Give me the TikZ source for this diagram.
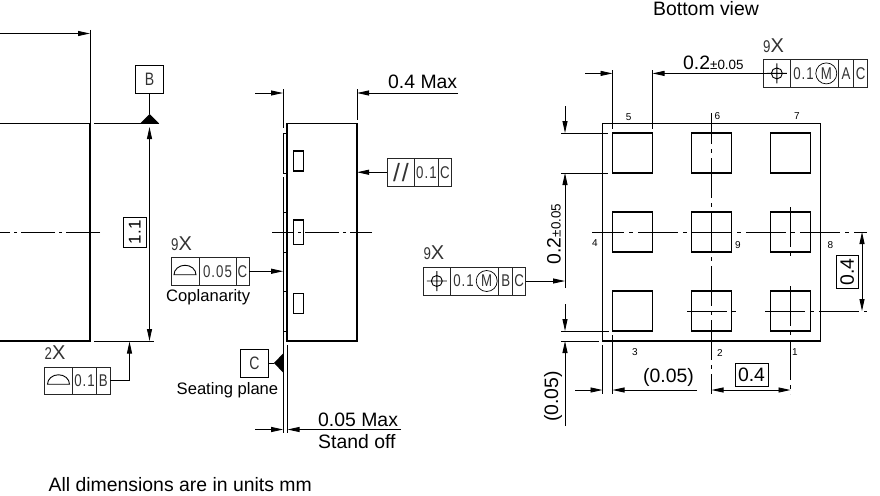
\documentclass[tikz,border=0pt]{standalone}
\usepackage{xcolor}
\usepackage{fontspec}
\setmainfont{Liberation Sans}
\newfontfamily\gdtfont[FakeStretch=0.78,LetterSpace=6]{Liberation Sans}
\usetikzlibrary{positioning,arrows.meta}

\begin{document}
\begin{tikzpicture}[
				x=1pt, y=-1pt,
				bodybox/.style={rectangle, draw, line width=1.2pt, inner sep=0pt, outer sep=0pt},
				padbox/.style={rectangle, draw, line width=1.2pt, inner sep=0pt, outer sep=0pt, minimum size=40pt},
				datumbox/.style={rectangle, draw, line width=0.7pt, inner sep=0pt, outer sep=0pt, minimum size=28pt, font=\gdtfont\fontsize{18}{18}\selectfont, text=black!80},
				fcell/.style={rectangle, draw=black!85, line width=0.8pt, inner sep=0pt, outer sep=0pt, minimum height=27.5pt, font=\gdtfont\fontsize{17}{17}\selectfont, text=black!80},
				markcirc/.style={circle, draw, line width=0.7pt, inner sep=0pt, outer sep=0pt, minimum size=21pt, font=\gdtfont\fontsize{17}{17}\selectfont, text=black!80},
				basicbox/.style={rectangle, draw, line width=0.8pt, inner sep=0pt, outer sep=0pt},
				mainlabel/.style={anchor=base west, inner sep=0pt, font=\fontsize{19.4}{20}\selectfont},
				smalllabel/.style={anchor=base west, inner sep=0pt, font=\fontsize{16.6}{18}\selectfont},
				pinlabel/.style={inner sep=0pt, font=\fontsize{10}{10}\selectfont},
				countlabel/.style={anchor=base west, inner sep=0pt, font=\gdtfont\fontsize{17}{17}\selectfont, text=black!80},
				thinline/.style={line width=0.9pt},
				dimline/.style={line width=0.9pt, -{Triangle[length=12pt,width=5pt]}},
				dimboth/.style={line width=0.9pt, {Triangle[length=12pt,width=5pt]}-{Triangle[length=12pt,width=5pt]}},
				centerline/.style={line width=0.8pt, dash pattern=on 40pt off 5pt on 4pt off 5pt},
				]
				\useasboundingbox (0,0) rectangle (880,495);
				\clip (0,0) rectangle (880,495);

				%Left view nodes
				\node[bodybox, minimum width=120pt, minimum height=217.5pt](front) at (30,232.25){};
				\node[datumbox](datumB) at (149.5,79){B};
				\node[basicbox, rotate=90, minimum width=29.5pt, minimum height=22.5pt, font=\fontsize{17}{17}\selectfont](heightval) at (134.75,232.25){1.1};
				\node[countlabel](flatcount) at (44.5,359){2{\normalfont\fontsize{20}{20}\selectfont X}};
				\node[fcell, minimum width=28pt, anchor=west](flatsym) at (44.5,380.75){};
				\node[fcell, minimum width=24pt, right=0pt of flatsym](flatval){0.1};
				\node[fcell, minimum width=13.5pt, right=0pt of flatval](flatdat){B};

				%Middle view nodes
				\node[bodybox, minimum width=70pt, minimum height=217.5pt](side) at (322,232.25){};
				\node[bodybox, line width=0.9pt, minimum width=4pt, minimum height=39.5pt](sideA) at (285.2,153.25){};
				\node[bodybox, line width=0.9pt, minimum width=4pt, minimum height=39.5pt](sideB) at (285.2,232.5){};
				\node[bodybox, line width=0.9pt, minimum width=4pt, minimum height=39.5pt](sideC) at (285.2,311.25){};
				\node[bodybox, minimum width=10pt, minimum height=20pt](chipA) at (298.5,161){};
				\node[bodybox, minimum width=10pt, minimum height=24.5pt](chipB) at (298.5,232.25){};
				\node[bodybox, minimum width=10pt, minimum height=20pt](chipC) at (298.5,303.25){};
				\node[mainlabel](maxlabel) at (388,88.5){0.4 Max};
				\node[fcell, minimum width=27.5pt, anchor=west, font=\fontsize{25}{25}\selectfont](parasym) at (387.2,172.25){/\kern2pt/};
				\node[fcell, minimum width=23.5pt, right=0pt of parasym](paraval){0.1};
				\node[fcell, minimum width=13.5pt, right=0pt of paraval](paradat){C};
				\node[countlabel](coplcount) at (171,250){9{\normalfont\fontsize{20}{20}\selectfont X}};
				\node[fcell, minimum width=28pt, anchor=west](coplsym) at (171,271.25){};
				\node[fcell, minimum width=37pt, right=0pt of coplsym](coplval){0.05};
				\node[fcell, minimum width=13pt, right=0pt of coplval](copldat){C};
				\node[smalllabel](copllabel) at (166,301){Coplanarity};
				\node[datumbox](datumC) at (254.5,363){C};
				\node[smalllabel](seatlabel) at (176.5,394){Seating plane};
				\node[mainlabel](standmax) at (318,426){0.05 Max};
				\node[mainlabel](standoff) at (318,448.5){Stand off};

				%Bottom view nodes
				\node[mainlabel](viewlabel) at (653,15.3){Bottom view};
				\node[bodybox, minimum width=218pt, minimum height=217.5pt](pkg) at (711.5,232.25){};
				\node[padbox](pad5) at (632.5,153){};
				\node[padbox, right=39pt of pad5](pad6){};
				\node[padbox, right=39pt of pad6](pad7){};
				\node[padbox, below=39pt of pad5](pad4){};
				\node[padbox, below=39pt of pad6](pad9){};
				\node[padbox, below=39pt of pad7](pad8){};
				\node[padbox, below=39pt of pad4](pad3){};
				\node[padbox, below=39pt of pad9](pad2){};
				\node[padbox, below=39pt of pad8](pad1){};
				\node[pinlabel](pinfive) at (628.7,117){5};
				\node[pinlabel](pinsix) at (717.3,116){6};
				\node[pinlabel](pinseven) at (797,116){7};
				\node[pinlabel](pinfour) at (595,243){4};
				\node[pinlabel](pinnine) at (738,245.5){9};
				\node[pinlabel](pineight) at (830.5,245){8};
				\node[pinlabel](pinthree) at (635,352.5){3};
				\node[pinlabel](pintwo) at (720,353){2};
				\node[pinlabel](pinone) at (795,352){1};
				\node[mainlabel](padwidth) at (683,69.3){0.2{\fontsize{13.4}{14}\selectfont ±0.05}};
				\node[mainlabel, rotate=90](padheight) at (560.5,264.5){0.2{\fontsize{13.4}{14}\selectfont ±0.05}};
				\node[mainlabel](edgewidth) at (643,382.5){(0.05)};
				\node[mainlabel, rotate=90](edgeheight) at (558,422){(0.05)};
				\node[basicbox, minimum width=33pt, minimum height=22.3pt, font=\fontsize{19.4}{20}\selectfont](pitchx) at (751.5,375){0.4};
				\node[basicbox, rotate=90, minimum width=33.3pt, minimum height=22.3pt, font=\fontsize{19.4}{20}\selectfont](pitchy) at (847.1,271.7){0.4};
				\node[countlabel](topcount) at (763,52.3){9{\normalfont\fontsize{20}{20}\selectfont X}};
				\node[fcell, minimum width=27.7pt, minimum height=28pt, anchor=west](possymA) at (763,73.4){};
				\node[fcell, minimum width=47.6pt, minimum height=28pt, right=0pt of possymA](posvalA){0.1\rule{22pt}{0pt}};
				\node[fcell, minimum width=15.4pt, minimum height=28pt, right=0pt of posvalA](posdatA){A};
				\node[fcell, minimum width=14pt, minimum height=28pt, right=0pt of posdatA](posdatAC){C};
				\node[markcirc, left=1.5pt of posvalA.east](markA){M};
				\node[countlabel](leftcount) at (423.3,259.3){9{\normalfont\fontsize{20}{20}\selectfont X}};
				\node[fcell, minimum width=27pt, minimum height=28pt, anchor=west](possymB) at (423.3,281){};
				\node[fcell, minimum width=48.4pt, minimum height=28pt, right=0pt of possymB](posvalB){0.1\rule{22pt}{0pt}};
				\node[fcell, minimum width=14pt, minimum height=28pt, right=0pt of posvalB](posdatB){B};
				\node[fcell, minimum width=13pt, minimum height=28pt, right=0pt of posdatB](posdatBC){C};
				\node[markcirc, left=1.5pt of posvalB.east](markB){M};
				\node[anchor=base west, inner sep=0pt, font=\fontsize{19.4}{20}\selectfont](footnote) at (48.5,491){All dimensions are in units mm};

				%Free ends
				\coordinate (widthfree) at (0,33.5);
				\coordinate (widthtip) at (90,33.5);
				\coordinate (widthext) at (90,30);
				\coordinate (upperA) at (94,123.5);
				\coordinate (upperB) at (159,123.5);
				\coordinate (lowerA) at (94,341);
				\coordinate (lowerB) at (154,341);
				\coordinate (heighttop) at (149.5,127);
				\coordinate (heightbot) at (149.5,341);
				\coordinate (apexB) at (149.5,114);
				\coordinate (leadtip) at (129.5,341.5);
				\coordinate (axisfrontA) at (100,232);
				\coordinate (axisfrontB) at (0,232);
				\coordinate (axissideA) at (372,232);
				\coordinate (axissideB) at (272,232);
				\coordinate (maxfreeA) at (255,93);
				\coordinate (maxtipA) at (283,93);
				\coordinate (maxfreeB) at (458,93);
				\coordinate (maxtipB) at (357,93);
				\coordinate (maxextA) at (283,89);
				\coordinate (maxendA) at (283,128);
				\coordinate (maxextB) at (357,89);
				\coordinate (maxendB) at (357,120);
				\coordinate (gapA) at (283.2,177);
				\coordinate (rearA) at (283.2,433);
				\coordinate (rearB) at (287.5,345);
				\coordinate (rearC) at (287.5,433);
				\coordinate (apexC) at (274,363);
				\coordinate (standfreeA) at (255,429.5);
				\coordinate (standtipA) at (283.2,429.5);
				\coordinate (standfreeB) at (401,429.5);
				\coordinate (standtipB) at (287.5,429.5);
				\coordinate (topfreeA) at (585,73.4);
				\coordinate (toptipA) at (612.5,73.4);
				\coordinate (topendB) at (778,73.4);
				\coordinate (toptipB) at (652.5,73.4);
				\coordinate (topextA) at (612.5,70);
				\coordinate (topstopA) at (612.5,129);
				\coordinate (topextB) at (652.5,70);
				\coordinate (topstopB) at (652.5,129);
				\coordinate (vfreeA) at (565,106);
				\coordinate (vtipA) at (565,133);
				\coordinate (vendB) at (565,288);
				\coordinate (vtipB) at (565,173);
				\coordinate (vextA) at (561,133);
				\coordinate (vstopA) at (608,133);
				\coordinate (vextB) at (561,173);
				\coordinate (vstopB) at (608,173);
				\coordinate (hleadtip) at (565,281);
				\coordinate (efreeA) at (565,304);
				\coordinate (etipA) at (565,331);
				\coordinate (efreeB) at (565,426);
				\coordinate (etipB) at (565,341);
				\coordinate (eextA) at (561,331);
				\coordinate (estopA) at (609,331);
				\coordinate (eextB) at (561,341);
				\coordinate (estopB) at (599,341);
				\coordinate (bfreeA) at (575,390);
				\coordinate (btipA) at (602.5,390);
				\coordinate (bfreeB) at (697,390);
				\coordinate (btipB) at (612.5,390);
				\coordinate (bextA) at (602.5,345);
				\coordinate (bstopA) at (602.5,394);
				\coordinate (bextB) at (612.5,335);
				\coordinate (bstopB) at (612.5,394);
				\coordinate (pitchxA) at (711.5,390);
				\coordinate (pitchxB) at (790.5,390);
				\coordinate (pitchstopA) at (711.5,394);
				\coordinate (pitchstopB) at (790.5,394);
				\coordinate (pitchyA) at (862,232);
				\coordinate (pitchyB) at (862,311);
				\coordinate (axisrowA) at (592,232);
				\coordinate (axisrowB) at (866.5,232);
				\coordinate (axiscolA) at (711.5,113);
				\coordinate (axiscolB) at (790.5,207);
				\coordinate (axiscolC) at (790.5,256);
				\coordinate (axiscolD) at (790.5,286);
				\coordinate (axislowA) at (687,311);
				\coordinate (axislowB) at (737,311);
				\coordinate (axislowC) at (765,311);
				\coordinate (axislowD) at (866.5,311);

				%Lines left view
				\draw[dimline] (widthfree) -- (widthtip);
				\draw[thinline] (widthext) -- (front.north east);
				\draw[thinline] (upperA) -- (upperB);
				\draw[thinline] (lowerA) -- (lowerB);
				\draw[dimboth] (heighttop) -- (heightbot);
				\draw[thinline] (datumB.south) -- (apexB);
				\fill (apexB) -- (140,123.5) -- (159,123.5) -- cycle;
				\draw[dimline] (flatdat.east) -| (leadtip);
				\draw[centerline, dash pattern=on 34pt off 4pt on 3pt off 4pt] (axisfrontA) -- (axisfrontB);
				\draw[thinline] (flatsym.center) ++(-11,3.5) arc[start angle=180, end angle=360, x radius=11, y radius=9.5] -- cycle;

				%Lines middle view
				\draw[centerline, dash pattern=on 34pt off 4pt on 3pt off 4pt, dash phase=12pt] (axissideA) -- (axissideB);
				\draw[dimline] (maxfreeA) -- (maxtipA);
				\draw[dimline] (maxfreeB) -- (maxtipB);
				\draw[thinline] (maxextA) -- (maxendA);
				\draw[thinline] (maxextB) -- (maxendB);
				\draw[thinline] (gapA) -- (sideB.north west);
				\draw[thinline] (sideB.south west) -- (sideC.north west);
				\draw[thinline] (sideC.south west) -- (rearA);
				\draw[thinline] (rearB) -- (rearC);
				\draw[dimline] (parasym.west) -- (parasym.west -| side.east);
				\draw[dimline] (copldat.east) -- (copldat.east -| sideC.west);
				\draw[thinline] (coplsym.center) ++(-11,3.5) arc[start angle=180, end angle=360, x radius=11, y radius=9.5] -- cycle;
				\draw[thinline] (datumC.east) -- (apexC);
				\fill (apexC) -- (283.5,353) -- (283.5,373) -- cycle;
				\draw[dimline] (standfreeA) -- (standtipA);
				\draw[dimline] (standfreeB) -- (standtipB);

				%Lines bottom view
				\draw[centerline, dash phase=8pt] (axisrowA) -- (axisrowB);
				\draw[centerline, dash phase=9pt] (axiscolA) -- (pitchstopA);
				\draw[centerline] (axiscolB) -- (axiscolC);
				\draw[centerline] (axiscolD) -- (pitchstopB);
				\draw[centerline] (axislowA) -- (axislowB);
				\draw[centerline] (axislowC) -- (axislowD);
				\draw[dimline] (topfreeA) -- (toptipA);
				\draw[dimline] (topendB) -- (toptipB);
				\draw[thinline] (topextA) -- (topstopA);
				\draw[thinline] (topextB) -- (topstopB);
				\draw[dimline] (vfreeA) -- (vtipA);
				\draw[dimline] (vendB) -- (vtipB);
				\draw[thinline] (vextA) -- (vstopA);
				\draw[thinline] (vextB) -- (vstopB);
				\draw[dimline] (posdatBC.east) -- (hleadtip);
				\draw[dimline] (efreeA) -- (etipA);
				\draw[dimline] (efreeB) -- (etipB);
				\draw[thinline] (eextA) -- (estopA);
				\draw[thinline] (eextB) -- (estopB);
				\draw[dimline] (bfreeA) -- (btipA);
				\draw[dimline] (bfreeB) -- (btipB);
				\draw[thinline] (bextA) -- (bstopA);
				\draw[thinline] (bextB) -- (bstopB);
				\draw[dimboth] (pitchxA) -- (pitchxB);
				\draw[dimboth] (pitchyA) -- (pitchyB);
				\draw[thinline] (possymA.center) circle[radius=5.5] ++(-10,0) -- ++(20,0) ++(-10,-10) -- ++(0,20);
				\draw[thinline] (possymB.center) circle[radius=5.5] ++(-10,0) -- ++(20,0) ++(-10,-10) -- ++(0,20);
			\end{tikzpicture}
\end{document}
